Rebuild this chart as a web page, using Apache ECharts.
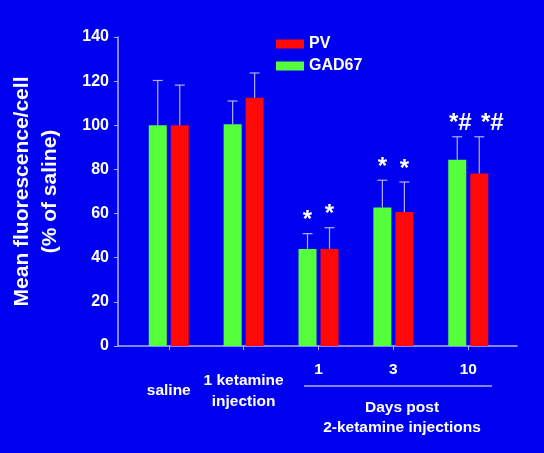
<!DOCTYPE html>
<html>
<head>
<meta charset="utf-8">
<script src="https://cdn.jsdelivr.net/npm/echarts@6/dist/echarts.min.js"></script>
<style>
  html, body { margin: 0; padding: 0; background: #0000f0; }
  #chart { width: 544px; height: 453px; }
</style>
</head>
<body>
<div id="chart"></div>
<script>
// categories along x
const categories = ['saline', '1 ketamine\ninjection', '1', '3', '10']
// mean values (% of saline)
const gad67Mean = [100, 100.5, 44, 62.7, 84.4]
const pvMean = [100, 112.5, 44, 60.7, 78.1]
// upper error (sd) above the mean
const gad67Err = [20.3, 10.5, 6.9, 12.4, 10.4]
const pvErr = [18.2, 11.2, 9.6, 13.6, 16.7]
// significance marks
const gad67Sig = ['', '', '*', '*', '*#']
const pvSig = ['', '', '*', '*', '*#']
const yTicks = [0, 20, 40, 60, 80, 100, 120, 140]

const FONT = '"Liberation Sans", Arial, sans-serif'
const AXIS_COLOR = '#b0b0ff'
const GREEN = '#55ff3c'
const RED = '#ff0808'
const BAR_W = 18
const BAR_GAP = 4

const groupIdx = categories.map((c, i) => i)

function errorSeries(name, means, errs, sigs, offset, sigShift) {
  return {
    name: name + ' err',
    type: 'custom',
    z: 5,
    data: groupIdx.map(i => [i, means[i], errs[i]]),
    renderItem: function (params, api) {
      const x = api.value(0)
      const m = api.value(1)
      const top = m + api.value(2)
      const p0 = api.coord([x, m])
      const p1 = api.coord([x, top])
      const cx = p0[0] + offset
      const children = [
        {
          type: 'line',
          shape: {x1: cx, y1: p0[1], x2: cx, y2: p1[1]},
          style: {stroke: AXIS_COLOR, lineWidth: 1.2}
        },
        {
          type: 'line',
          shape: {x1: cx - 5, y1: p1[1], x2: cx + 5, y2: p1[1]},
          style: {stroke: AXIS_COLOR, lineWidth: 1.2}
        }
      ]
      const sig = sigs[params.dataIndex]
      if (sig) {
        children.push({
          type: 'text',
          style: {
            text: sig,
            x: cx + (sig.length > 1 ? sigShift : 0),
            y: p1[1] - 1,
            align: 'center',
            verticalAlign: 'bottom',
            fill: '#ffffff',
            font: 'bold 24px ' + FONT
          }
        })
      }
      return {type: 'group', children: children}
    }
  }
}

const chart = echarts.init(document.getElementById('chart'))
const option = {
  backgroundColor: '#0000f0',
  animation: false,
  textStyle: {fontFamily: FONT},
  legend: {
    data: ['PV', 'GAD67'],
    orient: 'vertical',
    left: 271,
    top: 31,
    itemWidth: 28,
    itemHeight: 9,
    itemGap: 6,
    icon: 'rect',
    textStyle: {color: '#ffffff', fontSize: 16, fontWeight: 'bold', fontFamily: FONT, padding: [4, 0, 0, 0]}
  },
  grid: {left: 116, right: 27, top: 37, bottom: 107},
  xAxis: [
    {
      type: 'value',
      min: -0.678,
      max: 4.651,
      splitLine: {show: false},
      axisLine: {show: true, onZero: false, lineStyle: {color: AXIS_COLOR, width: 1.5}},
      axisTick: {show: true, length: 4, customValues: groupIdx, lineStyle: {color: AXIS_COLOR}},
      axisLabel: {
        customValues: [2, 3, 4],
        formatter: v => categories[Math.round(v)],
        color: '#ffffff',
        fontSize: 15.5,
        fontWeight: 'bold',
        fontFamily: FONT,
        margin: 24,
        verticalAlign: 'middle'
      }
    },
    {
      type: 'value',
      position: 'bottom',
      min: -0.678,
      max: 4.651,
      splitLine: {show: false},
      axisLine: {show: false, onZero: false},
      axisTick: {show: false},
      axisLabel: {
        customValues: [0, 1],
        formatter: v => categories[Math.round(v)],
        color: '#ffffff',
        fontSize: 15.5,
        fontWeight: 'bold',
        fontFamily: FONT,
        lineHeight: 21,
        margin: 45,
        verticalAlign: 'middle'
      }
    }
  ],
  yAxis: {
    type: 'value',
    min: yTicks[0],
    max: yTicks[yTicks.length - 1],
    interval: 20,
    name: 'Mean fluorescence/cell\n(% of saline)',
    nameLocation: 'middle',
    nameRotate: 90,
    nameGap: 54,
    nameTextStyle: {color: '#ffffff', fontSize: 21, fontWeight: 'bold', fontFamily: FONT, lineHeight: 28},
    splitLine: {show: false},
    axisLine: {show: true, onZero: false, lineStyle: {color: AXIS_COLOR, width: 1.5}},
    axisTick: {show: true, length: 4, lineStyle: {color: AXIS_COLOR}},
    axisLabel: {color: '#ffffff', fontSize: 16, fontWeight: 'bold', fontFamily: FONT, margin: 9}
  },
  graphic: [
    {
      type: 'line',
      shape: {x1: 304, y1: 386, x2: 492, y2: 386},
      style: {stroke: AXIS_COLOR, lineWidth: 1.5}
    },
    {
      type: 'text',
      x: 402,
      y: 418,
      style: {
        text: 'Days post\n2-ketamine injections',
        align: 'center',
        verticalAlign: 'middle',
        fill: '#ffffff',
        font: 'bold 15.5px ' + FONT,
        lineHeight: 20
      }
    }
  ],
  series: [
    {
      name: 'GAD67',
      type: 'bar',
      barWidth: BAR_W,
      barGap: (BAR_GAP / BAR_W * 100) + '%',
      itemStyle: {color: GREEN},
      data: groupIdx.map(i => [i, gad67Mean[i]])
    },
    {
      name: 'PV',
      type: 'bar',
      barWidth: BAR_W,
      itemStyle: {color: RED},
      data: groupIdx.map(i => [i, pvMean[i]])
    },
    errorSeries('GAD67', gad67Mean, gad67Err, gad67Sig, -(BAR_W + BAR_GAP) / 2, 3),
    errorSeries('PV', pvMean, pvErr, pvSig, (BAR_W + BAR_GAP) / 2, 13)
  ]
}
chart.setOption(option)
</script>
</body>
</html>
